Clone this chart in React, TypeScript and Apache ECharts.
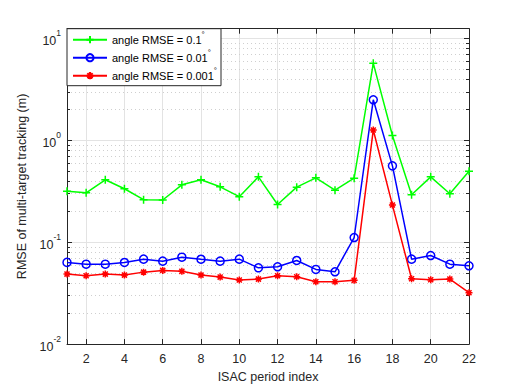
import React, { useEffect, useRef } from 'react';
import * as echarts from 'echarts';

const periods = [1, 2, 3, 4, 5, 6, 7, 8, 9, 10, 11, 12, 13, 14, 15, 16, 17, 18, 19, 20, 21, 22];
const seriesNames = ['angle RMSE = 0.1°', 'angle RMSE = 0.01°', 'angle RMSE = 0.001°'];
const rmseAngle01 = [0.316, 0.305, 0.409, 0.334, 0.261, 0.259, 0.365, 0.409, 0.349, 0.279, 0.437, 0.234, 0.346, 0.427, 0.323, 0.424, 5.67, 1.11, 0.292, 0.437, 0.298, 0.496];
const rmseAngle001 = [0.0633, 0.0608, 0.0608, 0.0632, 0.0681, 0.0651, 0.0712, 0.068, 0.0651, 0.0681, 0.056, 0.0573, 0.0661, 0.054, 0.0512, 0.111, 2.49, 0.56, 0.0681, 0.0739, 0.0608, 0.0586];
const rmseAngle0001 = [0.0486, 0.0468, 0.0486, 0.0475, 0.0508, 0.0528, 0.0517, 0.0475, 0.0454, 0.0425, 0.0434, 0.0468, 0.0457, 0.0409, 0.0409, 0.0422, 1.26, 0.231, 0.0437, 0.0427, 0.0434, 0.0319];
const xTicks = [2, 4, 6, 8, 10, 12, 14, 16, 18, 20, 22];
const yMinorTicks = [0.02, 0.03, 0.04, 0.05, 0.06, 0.07, 0.08, 0.09, 0.2, 0.3, 0.4, 0.5, 0.6, 0.7, 0.8, 0.9, 2, 3, 4, 5, 6, 7, 8, 9];
const xMin = 1;
const xMax = 22;
const yMin = 0.01;
const yMax = 12.4;

const FONT = '"Liberation Sans", Arial, Helvetica, sans-serif';
const AX = '#262626';

export default function App() {
  const ref = useRef<HTMLDivElement>(null);
  useEffect(() => {
    if (!ref.current) return;
    const chart = echarts.init(ref.current, null, { renderer: 'svg' });
    const plusPath = 'path://M0,-1V1M-1,0H1';
    const starPath = 'path://M0,-1V1M-1,0H1M-0.72,-0.72L0.72,0.72M-0.72,0.72L0.72,-0.72';
    const mk = (arr: number[]) => periods.map((p, i) => [p, arr[i]]);
    const yLabelFmt = (v: number) => {
      const l = Math.log10(v);
      const e = Math.round(l);
      if (Math.abs(l - e) > 1e-6) return '';
      return `{b|10}{s|${e}}`;
    };
    const option: any = {
      animation: false,
      backgroundColor: '#ffffff',
      textStyle: { fontFamily: FONT },
      grid: { left: 67, right: 49, top: 28.7, bottom: 42.7, containLabel: false },
      legend: {
        data: seriesNames,
        orient: 'vertical',
        left: 67,
        top: 28.7,
        padding: [2, 4, 1, 5],
        itemGap: 0,
        itemWidth: 34,
        itemHeight: 9,
        backgroundColor: '#ffffff',
        borderColor: AX,
        borderWidth: 1,
        formatter: (name: string) => `${name.replace('°', '')}{d|°}`,
        textStyle: {
          color: '#000',
          fontFamily: FONT,
          fontSize: 11,
          lineHeight: 18,
          rich: {
            d: { fontSize: 8, lineHeight: 8, verticalAlign: 'top', color: '#000', fontFamily: FONT },
          },
        },
        z: 10,
      },
      xAxis: [
        {
          type: 'value',
          min: xMin,
          max: xMax,
          position: 'bottom',
          name: 'ISAC period index',
          nameLocation: 'middle',
          nameGap: 23,
          nameTextStyle: { fontSize: 12.5, color: AX, fontFamily: FONT },
          axisLine: { show: true, lineStyle: { color: AX, width: 1 } },
          axisTick: { show: true, inside: true, length: 5, customValues: xTicks, lineStyle: { color: AX } },
          axisLabel: { show: true, customValues: xTicks, margin: 8, fontSize: 12.5, color: AX, fontFamily: FONT },
          splitLine: { show: true, lineStyle: { color: '#e3e3e3', width: 1 } },
        },
        {
          type: 'value',
          min: xMin,
          max: xMax,
          position: 'top',
          axisLine: { show: true, onZero: false, lineStyle: { color: AX, width: 1 } },
          axisTick: { show: true, inside: true, length: 5, customValues: xTicks, lineStyle: { color: AX } },
          axisLabel: { show: false },
          splitLine: { show: false },
        },
      ],
      yAxis: [
        {
          type: 'log',
          logBase: 10,
          min: yMin,
          max: yMax,
          position: 'left',
          name: 'RMSE of multi-target tracking (m)',
          nameLocation: 'middle',
          nameGap: 31,
          nameTextStyle: { fontSize: 12.5, color: AX, fontFamily: FONT },
          axisLine: { show: true, onZero: false, lineStyle: { color: AX, width: 1 } },
          axisTick: { show: true, inside: true, length: 5, lineStyle: { color: AX } },
          axisLabel: {
            show: true,
            margin: 6,
            formatter: yLabelFmt,
            showMaxLabel: false,
            rich: {
              b: { fontSize: 12.5, lineHeight: 19, verticalAlign: 'bottom', color: AX, fontFamily: FONT },
              s: { fontSize: 8.5, lineHeight: 9, verticalAlign: 'top', color: AX, fontFamily: FONT },
            },
          },
          splitLine: { show: true, lineStyle: { color: '#e3e3e3', width: 1 } },
        },
        {
          type: 'log',
          logBase: 10,
          min: yMin,
          max: yMax,
          position: 'right',
          axisLine: { show: true, onZero: false, lineStyle: { color: AX, width: 1 } },
          axisTick: { show: true, inside: true, length: 5, lineStyle: { color: AX } },
          axisLabel: { show: false },
          splitLine: { show: false },
        },
      ],
      series: [
        {
          type: 'custom',
          name: 'minor',
          xAxisIndex: 0,
          yAxisIndex: 0,
          silent: true,
          z: 1,
          clip: false,
          data: yMinorTicks.map((v) => [xMin, v]),
          renderItem: (params: any, api: any) => {
            const cs = params.coordSys;
            const y = Math.round(api.coord([api.value(0), api.value(1)])[1]) + 0.5;
            return {
              type: 'group',
              children: [
                { type: 'line', shape: { x1: cs.x, y1: y, x2: cs.x + cs.width, y2: y }, style: { stroke: '#cfcfcf', lineWidth: 1, lineDash: [1, 3] } },
                { type: 'line', shape: { x1: cs.x, y1: y, x2: cs.x + 3, y2: y }, style: { stroke: AX, lineWidth: 1 } },
                { type: 'line', shape: { x1: cs.x + cs.width - 3, y1: y, x2: cs.x + cs.width, y2: y }, style: { stroke: AX, lineWidth: 1 } },
              ],
            };
          },
        },
        {
          type: 'line',
          name: seriesNames[0],
          data: mk(rmseAngle01),
          z: 3,
          symbol: plusPath,
          symbolSize: 8,
          lineStyle: { color: '#00ff00', width: 1.5 },
          itemStyle: { color: '#00ff00', borderColor: '#00ff00', borderWidth: 1.5 },
        },
        {
          type: 'line',
          name: seriesNames[1],
          data: mk(rmseAngle001),
          z: 4,
          symbol: 'circle',
          symbolSize: 8,
          lineStyle: { color: '#0000ff', width: 1.5 },
          itemStyle: { color: 'rgba(255,255,255,0)', borderColor: '#0000ff', borderWidth: 1.5 },
        },
        {
          type: 'line',
          name: seriesNames[2],
          data: mk(rmseAngle0001),
          z: 5,
          symbol: starPath,
          symbolSize: 7,
          lineStyle: { color: '#ff0000', width: 1.5 },
          itemStyle: { color: '#ff0000', borderColor: '#ff0000', borderWidth: 1.5 },
        },
      ],
    };
    chart.setOption(option);
    return () => chart.dispose();
  }, []);
  return (
    <div
      ref={ref}
      style={{ position: 'fixed', left: 0, top: 0, width: 518, height: 388, background: '#ffffff' }}
    />
  );
}
